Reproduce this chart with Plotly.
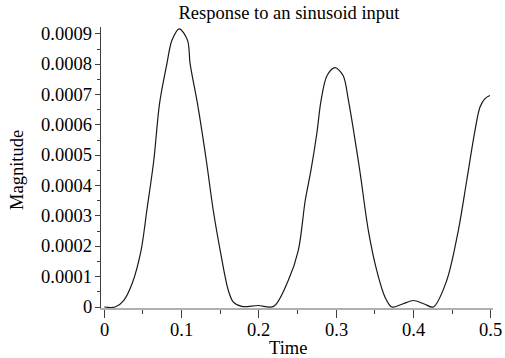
import plotly.graph_objects as go

time = [0.0, 0.014, 0.025, 0.036, 0.0475, 0.055, 0.064, 0.0715, 0.081, 0.0875, 0.097,
        0.1077, 0.111, 0.1205, 0.132, 0.141, 0.150, 0.1605, 0.167, 0.178, 0.199, 0.219,
        0.238, 0.251, 0.260, 0.2675, 0.275, 0.2805, 0.2883, 0.2985, 0.309, 0.3159, 0.3232,
        0.331, 0.3417, 0.3526, 0.3633, 0.372, 0.386, 0.400, 0.414, 0.4258, 0.4431, 0.4581,
        0.469, 0.4797, 0.4862, 0.4926, 0.499]
magnitude = [0.0, 0.0, 0.0000214, 0.0000775, 0.000186, 0.000318, 0.000483, 0.000671, 0.000802,
             0.000879, 0.000917, 0.000879, 0.000802, 0.000671, 0.000483, 0.000318, 0.000186,
             0.0000544, 0.0000158, 0.000002, 0.000005, 0.000002, 0.0000874, 0.000186, 0.000351,
             0.000452, 0.000572, 0.000681, 0.000763, 0.000789, 0.000763, 0.000681, 0.000571,
             0.000443, 0.000252, 0.00012, 0.0000323, 0.0, 0.00001, 0.0000214, 0.00001, 0.0,
             0.0000874, 0.000252, 0.000417, 0.000582, 0.000659, 0.000687, 0.000697]

x_tick_vals = [0, 0.1, 0.2, 0.3, 0.4, 0.5]
x_tick_text = ["0", "0.1", "0.2", "0.3", "0.4", "0.5"]
y_tick_vals = [0, 0.0001, 0.0002, 0.0003, 0.0004, 0.0005, 0.0006, 0.0007, 0.0008, 0.0009]
y_tick_text = ["0", "0.0001", "0.0002", "0.0003", "0.0004", "0.0005", "0.0006", "0.0007",
               "0.0008", "0.0009"]

title_text = "Response to an sinusoid input"
x_title = "Time"
y_title = "Magnitude"

FONT = "Liberation Serif"
FS = 18.5

pl, pr, pt, pb = 101, 12, 27, 50
W, H = 505, 358
pw, ph = W - pl - pr, H - pt - pb

fig = go.Figure()
fig.add_trace(go.Scatter(
    x=time, y=magnitude, mode="lines",
    line=dict(color="#1a1a1a", width=1.2, shape="spline", smoothing=0.9),
    hoverinfo="skip", showlegend=False,
))

annotations = [
    dict(text=x_title, x=(287.5 - pl) / pw, y=(H - pb - 348) / ph,
         xref="paper", yref="paper", xanchor="center", yanchor="middle",
         showarrow=False, font=dict(family=FONT, size=FS, color="black")),
    dict(text=y_title, x=(17 - pl) / pw, y=(H - pb - 170) / ph,
         xref="paper", yref="paper", xanchor="center", yanchor="middle",
         showarrow=False, textangle=-90,
         font=dict(family=FONT, size=FS, color="black")),
]
# tick labels (serif) placed through the axis scales
for v, t in zip(x_tick_vals, x_tick_text):
    annotations.append(dict(text=t, x=v, xref="x", y=(H - pb - 330) / ph, yref="paper",
                            xanchor="center", yanchor="middle", showarrow=False,
                            font=dict(family=FONT, size=FS, color="black")))
for v, t in zip(y_tick_vals, y_tick_text):
    annotations.append(dict(text=t, x=(91 - pl) / pw, xref="paper", y=v, yref="y",
                            xanchor="right", yanchor="middle", showarrow=False,
                            xshift=3,
                            font=dict(family=FONT, size=FS, color="black")))

fig.update_layout(
    width=W, height=H,
    margin=dict(l=pl, r=pr, t=pt, b=pb, autoexpand=False),
    paper_bgcolor="white", plot_bgcolor="white",
    font=dict(family=FONT, size=FS, color="black"),
    title=dict(text=title_text, x=289 / W, xanchor="center", xref="container",
               y=1 - 13 / H, yanchor="middle", yref="container",
               font=dict(family=FONT, size=FS, color="black")),
    xaxis=dict(
        range=[-0.0043, 0.503], showgrid=False, zeroline=False, automargin=False,
        showline=True, linecolor="#b0b0b0", linewidth=2,
        tickmode="array", tickvals=x_tick_vals, showticklabels=False,
        ticks="outside", ticklen=8, tickcolor="#404040", tickwidth=1,
        minor=dict(dtick=0.05, tick0=0, ticks="outside", ticklen=4,
                   tickcolor="#404040", tickwidth=1, showgrid=False),
    ),
    yaxis=dict(
        range=[-0.0000033, 0.000923], showgrid=False, zeroline=False, automargin=False,
        showline=True, linecolor="#404040", linewidth=1,
        tickmode="array", tickvals=y_tick_vals, showticklabels=False,
        ticks="outside", ticklen=5, tickcolor="#404040", tickwidth=1,
        minor=dict(dtick=0.00005, tick0=0, ticks="outside", ticklen=3,
                   tickcolor="#404040", tickwidth=1, showgrid=False),
    ),
    annotations=annotations,
)

fig.write_html("out.html")
